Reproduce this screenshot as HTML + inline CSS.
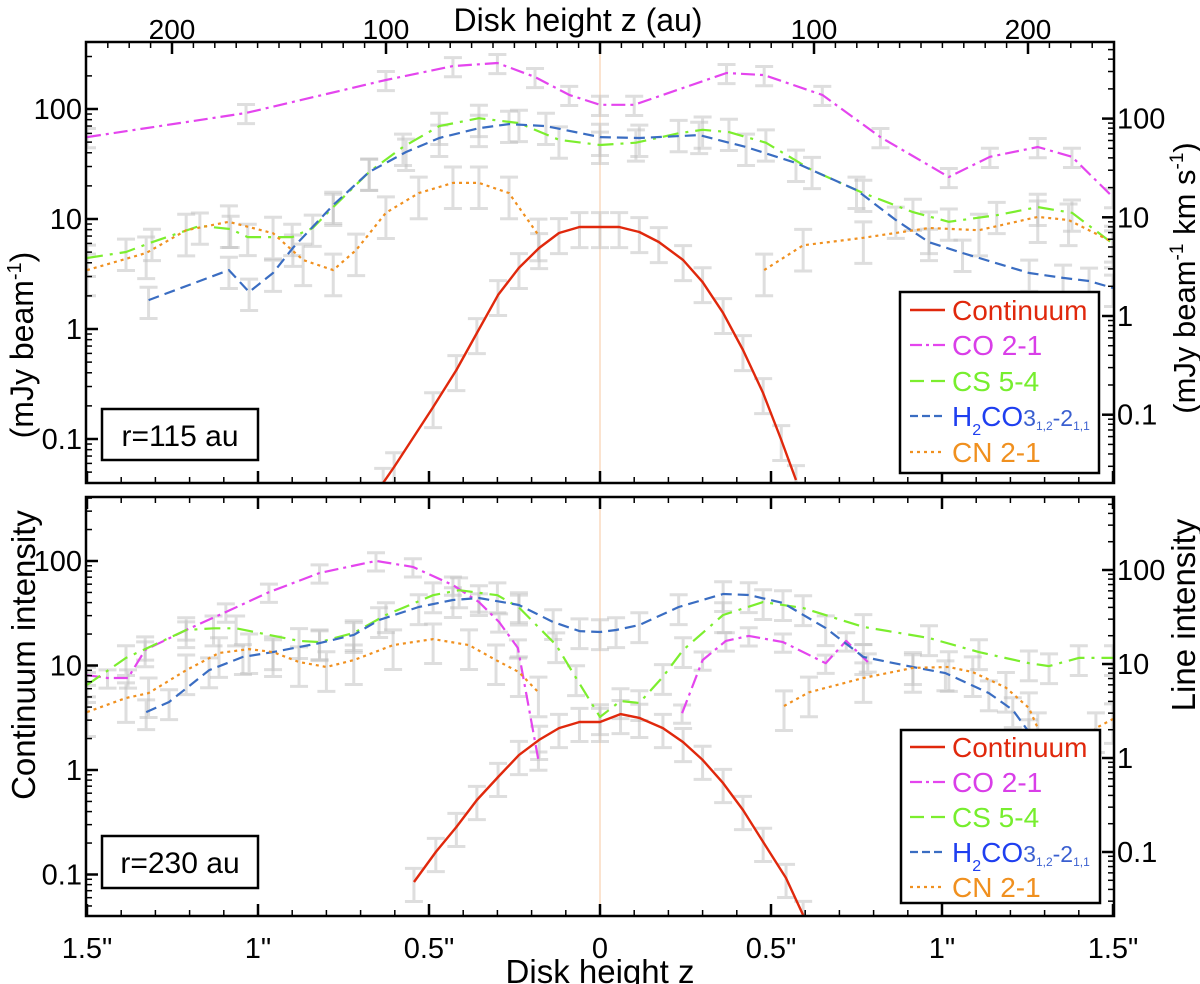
<!DOCTYPE html>
<html><head><meta charset="utf-8"><style>
html,body{margin:0;padding:0;background:#fff;}
svg text{font-family:"Liberation Sans",Arial,sans-serif;}
</style></head><body>
<svg id="chart" width="1200" height="984" viewBox="0 0 1200 984" xmlns="http://www.w3.org/2000/svg" style="position:absolute;left:0;top:0">
<defs>
<clipPath id="clipTop"><rect x="86" y="42" width="1028" height="441"/></clipPath>
<clipPath id="clipBot"><rect x="86" y="497" width="1028" height="419"/></clipPath>
</defs>
<g id="layer"></g>
</svg>
<script>
// ---------- data: top panel (r=115 au) ----------
const topContX = [-0.634,-0.602,-0.488,-0.42,-0.36,-0.298,-0.237,-0.178,-0.12,-0.06,0,0.056,0.115,0.172,0.243,0.30,0.36,0.418,0.477,0.53,0.573];
const topContV = [0.040,0.0556,0.195,0.424,0.92,2.04,3.59,5.45,7.46,8.46,8.46,8.46,7.62,6.18,4.24,2.67,1.40,0.644,0.262,0.098,0.0424];
const topCOX = [-1.5,-1.035,-0.626,-0.43,-0.30,-0.19,-0.09,0,0.1,0.37,0.48,0.65,0.82,1.02,1.14,1.28,1.38,1.5];
const topCOV = [65,114,246,340,366,264,174,138,138,290,276,174,65,25.6,41,51.5,41,16];
const topCSX = [-1.5,-1.386,-1.31,-1.17,-1.08,-1.03,-0.90,-0.84,-0.78,-0.675,-0.576,-0.47,-0.354,-0.237,-0.12,0,0.105,0.23,0.30,0.377,0.485,0.62,0.77,0.915,1.02,1.16,1.28,1.38,1.5];
const topCSV = [3.87,4.45,5.6,8.2,7.6,6.3,6.3,7.8,12.7,28.8,51.5,84,101,90,61,54,57,71,77,73,57,30,17.6,11.3,9.0,10.5,12.7,11.1,5.4];
const topH2COX = [-1.32,-1.085,-1.026,-0.956,-0.898,-0.78,-0.675,-0.567,-0.47,-0.354,-0.266,-0.158,0,0.115,0.29,0.427,0.573,0.75,0.865,0.962,1.06,1.255,1.354,1.43,1.5];
const topH2COV = [1.45,2.92,1.75,2.73,4.9,13.3,28.8,45.9,63.6,80,88,84,65,63.6,68,51.5,35.5,18.9,9.4,5.6,4.35,2.73,2.43,2.26,1.92];
const topCNX1 = [-1.5,-1.327,-1.21,-1.085,-0.956,-0.868,-0.78,-0.713,-0.626,-0.53,-0.43,-0.354,-0.266,-0.18];
const topCNV1 = [2.92,4.35,7.4,9.0,6.9,3.69,2.92,4.66,11.1,17.6,22.3,22.3,17.6,6.6];
const topCNX2 = [0.48,0.594,0.77,0.962,1.108,1.28,1.37,1.5];
const topCNV2 = [2.92,5.2,6.2,7.8,7.4,10.1,9.4,5.6];
// ---------- data: bottom panel (r=230 au) ----------
const botContX = [-0.544,-0.48,-0.42,-0.36,-0.298,-0.237,-0.178,-0.12,-0.06,0,0.06,0.115,0.184,0.243,0.30,0.36,0.418,0.477,0.544,0.594];
const botContV = [0.0848,0.164,0.285,0.516,0.857,1.39,1.94,2.52,2.88,2.88,3.43,3.15,2.52,1.85,1.25,0.75,0.414,0.205,0.0926,0.041];
const botCOX1 = [-1.5,-1.44,-1.38,-1.33,-1.21,-1.094,-0.968,-0.82,-0.655,-0.547,-0.43,-0.354,-0.295,-0.24,-0.18];
const botCOV1 = [7.6,7.1,7.1,14.1,23,35.7,58,93,125,108,69,45.7,28,14.8,0.95];
const botCOX2 = [0.24,0.30,0.368,0.435,0.535,0.66,0.72,0.783];
const botCOV2 = [3.0,11.0,17.6,19.9,17.1,10.2,17.6,10.5];
const botCSX = [-1.5,-1.386,-1.33,-1.21,-1.13,-1.064,-0.88,-0.82,-0.72,-0.626,-0.488,-0.412,-0.30,-0.237,-0.128,-0.07,0,0.06,0.115,0.184,0.243,0.36,0.477,0.594,0.77,0.962,1.108,1.254,1.313,1.4,1.5];
const botCSV = [6.0,11.6,14.4,23,24,24,17.6,17.1,21.4,33.2,54,61,54,40,15.9,7.1,2.73,4.04,3.85,7.3,14.1,33.2,45.7,39.4,24.8,18.9,13.4,10.2,9.5,11.6,11.6];
const botH2COX = [-1.327,-1.26,-1.143,-1.044,-0.956,-0.82,-0.72,-0.646,-0.53,-0.43,-0.354,-0.237,-0.137,-0.06,0,0.047,0.115,0.23,0.36,0.435,0.535,0.66,0.77,0.915,1.01,1.137,1.207,1.254,1.4];
const botH2COV = [3.08,3.94,8.6,11.9,13.4,16.7,20.4,29.4,40.4,48,50.4,42.4,28,22.4,21.9,23,26,40.4,55.6,54.2,44.6,24.1,11.9,9.3,8.0,4.9,3.24,1.89,0.5];
const botCNX1 = [-1.5,-1.386,-1.32,-1.21,-1.114,-1.026,-0.956,-0.88,-0.80,-0.72,-0.605,-0.488,-0.383,-0.304,-0.237,-0.18];
const botCNV1 = [3.08,4.35,4.9,8.6,13.1,14.4,13.4,10.5,9.3,11.0,15.9,18.4,15.9,11.0,8.2,5.0];
const botCNX2 = [0.538,0.611,0.77,0.915,1.02,1.09,1.187,1.254,1.28,1.36,1.45,1.5];
const botCNV2 = [3.57,5.0,7.1,9.1,9.3,8.2,5.6,3.4,2.08,0.8,2.08,2.6];
// fractional error bar half-sizes per series: CO, CS, H2CO, CN, Cont
const errFrac = [0.22, 0.35, 0.35, 0.45, 0.35];
const xTickLabels = ['1.5"','1"','0.5"','0','0.5"','1"','1.5"'];
const xTickVals = [-1.5,-1,-0.5,0,0.5,1,1.5];
const auTickVals = [200,100,100,200];
const auTickSide = [-1,-1,1,1];
const yTickVals = [100,10,1,0.1];
const yTickLabels = ['100','10','1','0.1'];

const NS='http://www.w3.org/2000/svg';
const layer=document.getElementById('layer');
function mk(tag,attrs,parent){const e=document.createElementNS(NS,tag);for(const k in attrs)e.setAttribute(k,attrs[k]);(parent||layer).appendChild(e);return e;}
const X = x => 600 + 342*x;
const AU_PX = 2.14; // px per au
const panels = {
 top:{y0:42,y1:483,yL:v=>329-110*Math.log10(v),yR:v=>316-98.7*Math.log10(v),clip:'url(#clipTop)'},
 bot:{y0:497,y1:916,yL:v=>770-104.5*Math.log10(v),yR:v=>758-94*Math.log10(v),clip:'url(#clipBot)'}
};
const COL={cont:'#e0280c',co:'#e445ee',cs:'#7cee2e',h2co:'#3a6dc2',cn:'#f0901f'};
const DASH={cont:'',co:'14,5,3,5',cs:'16,7,3,7',h2co:'11,6',cn:'3,4'};

function errBars(p,g,xs,vs,yf,frac,name){
  for(let i=0;i<xs.length;i++){
    const px=X(xs[i]);
    const lo=yf(vs[i]*(1-frac)),hi=yf(vs[i]*(1+frac));
    const e=mk('path',{d:`M${px},${hi}V${lo}M${px-9},${hi}H${px+9}M${px-9},${lo}H${px+9}`,stroke:'#bdbdbd','stroke-opacity':'0.5','stroke-width':3,fill:'none'},g);
    
    
  }
}
function line(p,g,xs,vs,yf,key,name){
  const pts=xs.map((x,i)=>X(x).toFixed(1)+','+yf(vs[i]).toFixed(1)).join(' ');
  const e=mk('polyline',{points:pts,fill:'none',stroke:COL[key],'stroke-width':key==='cont'?2.4:2.2,'stroke-dasharray':DASH[key],'stroke-linejoin':'round'},g);
  
  
}
function drawPanel(pk,S){
  const p=panels[pk];
  const g=mk('g',{'clip-path':p.clip});
  
  
  const c=mk('line',{x1:X(0),x2:X(0),y1:p.y0,y2:p.y1,stroke:'#fbe3cf','stroke-width':2},g);
  
  
  errBars(p,g,S.coX.concat(S.coX2||[]),S.coV.concat(S.coV2||[]),p.yR,errFrac[0],pk+'-co');
  errBars(p,g,S.csX,S.csV,p.yR,errFrac[1],pk+'-cs');
  errBars(p,g,S.hX,S.hV,p.yR,errFrac[2],pk+'-h2co');
  errBars(p,g,S.cnX1.concat(S.cnX2),S.cnV1.concat(S.cnV2),p.yR,errFrac[3],pk+'-cn');
  errBars(p,g,S.ctX,S.ctV,p.yL,errFrac[4],pk+'-continuum');
  line(p,g,S.ctX,S.ctV,p.yL,'cont',pk+'-continuum-line');
  line(p,g,S.coX,S.coV,p.yR,'co',pk+'-co-line');
  if(S.coX2) line(p,g,S.coX2,S.coV2,p.yR,'co',pk+'-co-line-2');
  line(p,g,S.csX,S.csV,p.yR,'cs',pk+'-cs-line');
  line(p,g,S.hX,S.hV,p.yR,'h2co',pk+'-h2co-line');
  line(p,g,S.cnX1,S.cnV1,p.yR,'cn',pk+'-cn-line');
  line(p,g,S.cnX2,S.cnV2,p.yR,'cn',pk+'-cn-line-2');
  const f=mk('rect',{x:86,y:p.y0,width:1028,height:p.y1-p.y0,fill:'none',stroke:'#000','stroke-width':2.5});
  
  
  for(let k=-15;k<=15;k++){
    const px=X(k/10), major=(k%5===0), L=major?12:6;
    mk('line',{x1:px,x2:px,y1:p.y1,y2:p.y1-L,stroke:'#000','stroke-width':major?2.5:1.5});
    if(pk==='bot') mk('line',{x1:px,x2:px,y1:p.y0,y2:p.y0+L,stroke:'#000','stroke-width':major?2.5:1.5});
  }
  [['L',p.yL,86,1],['R',p.yR,1114,-1]].forEach(([side,yf,x0,dir])=>{
    for(let d=-2;d<=2;d++){
      for(let m=1;m<=9;m++){
        const v=m*Math.pow(10,d), y=yf(v);
        if(y<p.y0+1||y>p.y1-1) continue;
        const L=m===1?12:6;
        mk('line',{x1:x0,x2:x0+dir*L,y1:y,y2:y,stroke:'#000','stroke-width':m===1?2.5:1.5});
      }
    }
    yTickVals.forEach((v,i)=>{
      const t=mk('text',{x:side==='L'?82:1117,y:yf(v)+10,'font-size':29,'text-anchor':side==='L'?'end':'start',fill:'#000'});
      t.textContent=yTickLabels[i];
      
      
    });
  });
}
drawPanel('top',{ctX:topContX,ctV:topContV,coX:topCOX,coV:topCOV,csX:topCSX,csV:topCSV,hX:topH2COX,hV:topH2COV,cnX1:topCNX1,cnV1:topCNV1,cnX2:topCNX2,cnV2:topCNV2});
drawPanel('bot',{ctX:botContX,ctV:botContV,coX:botCOX1,coV:botCOV1,coX2:botCOX2,coV2:botCOV2,csX:botCSX,csV:botCSV,hX:botH2COX,hV:botH2COV,cnX1:botCNX1,cnV1:botCNV1,cnX2:botCNX2,cnV2:botCNV2});

for(let a=-240;a<=240;a+=10){
  const px=600+AU_PX*a; if(px<87||px>1113) continue;
  const major=(a%100===0), L=major?12:6;
  mk('line',{x1:px,x2:px,y1:42,y2:42+L,stroke:'#000','stroke-width':major?2.5:1.5});
}
auTickVals.forEach((a,i)=>{
  const t=mk('text',{x:600+AU_PX*a*auTickSide[i],y:39,'font-size':28,'text-anchor':'middle'});
  t.textContent=String(a);
  
  
});
xTickVals.forEach((v,i)=>{
  const t=mk('text',{x:X(v),y:958,'font-size':29,'text-anchor':'middle'});
  t.textContent=xTickLabels[i];
  
  
});
</script>
<svg width="1200" height="984" viewBox="0 0 1200 984" style="position:absolute;left:0;top:0">
<text x="578" y="31" font-size="32" text-anchor="middle" font-family="Liberation Sans, sans-serif">Disk height z (au)</text>
<text x="600" y="983" font-size="33" text-anchor="middle" font-family="Liberation Sans, sans-serif">Disk height z</text>
<text transform="translate(33,345) rotate(-90)" font-size="32" text-anchor="middle" font-family="Liberation Sans, sans-serif">(mJy beam<tspan font-size="20" dy="-12">-1</tspan><tspan dy="12">)</tspan></text>
<text transform="translate(35,655) rotate(-90)" font-size="33" text-anchor="middle" font-family="Liberation Sans, sans-serif">Continuum intensity</text>
<text transform="translate(1195,278) rotate(-90)" font-size="31" text-anchor="middle" font-family="Liberation Sans, sans-serif">(mJy beam<tspan font-size="19" dy="-12">-1</tspan><tspan dy="12"> km s</tspan><tspan font-size="19" dy="-12">-1</tspan><tspan dy="12">)</tspan></text>
<text transform="translate(1195,615) rotate(-90)" font-size="33" text-anchor="middle" font-family="Liberation Sans, sans-serif">Line intensity</text>
<g>
<rect x="102" y="409" width="156" height="51" fill="#fff" stroke="#000" stroke-width="2.5"/>
<text x="180" y="446" font-size="30" text-anchor="middle" font-family="Liberation Sans, sans-serif">r=115 au</text>
</g>
<g>
<rect x="102" y="836" width="156" height="52" fill="#fff" stroke="#000" stroke-width="2.5"/>
<text x="180" y="873" font-size="30" text-anchor="middle" font-family="Liberation Sans, sans-serif">r=230 au</text>
</g>
<g font-family="Liberation Sans, sans-serif" font-size="28">
<rect x="900" y="292" width="199" height="181" fill="#fff" stroke="#000" stroke-width="2.5"/>
<g><line x1="910" x2="945" y1="310" y2="310" stroke="#e0280c" stroke-width="2.4"/><text x="952" y="320" fill="#e0280c">Continuum</text></g>
<g><line x1="910" x2="945" y1="345" y2="345" stroke="#e445ee" stroke-width="2.2" stroke-dasharray="12,4,3,4"/><text x="952" y="355" fill="#d93ee8">CO 2-1</text></g>
<g><line x1="910" x2="945" y1="381" y2="381" stroke="#7cee2e" stroke-width="2.2" stroke-dasharray="14,7"/><text x="952" y="391" fill="#77ee2e">CS 5-4</text></g>
<g><line x1="910" x2="945" y1="416" y2="416" stroke="#3a6dc2" stroke-width="2.2" stroke-dasharray="8,4"/><text x="952" y="426" fill="#1f3ff0">H<tspan font-size="16" dy="9">2</tspan><tspan dy="-9">CO</tspan><tspan font-size="23" fill="#3a5fd0">3<tspan font-size="12" dy="4">1,2</tspan><tspan dy="-4">-2</tspan><tspan font-size="12" dy="4">1,1</tspan></tspan></text></g>
<g><line x1="910" x2="945" y1="452" y2="452" stroke="#f0901f" stroke-width="2.2" stroke-dasharray="3,4"/><text x="952" y="462" fill="#f0901f">CN 2-1</text></g>
</g>
<g font-family="Liberation Sans, sans-serif" font-size="28">
<rect x="901" y="730" width="199" height="173" fill="#fff" stroke="#000" stroke-width="2.5"/>
<g><line x1="910" x2="945" y1="747" y2="747" stroke="#e0280c" stroke-width="2.4"/><text x="952" y="757" fill="#e0280c">Continuum</text></g>
<g><line x1="910" x2="945" y1="782" y2="782" stroke="#e445ee" stroke-width="2.2" stroke-dasharray="12,4,3,4"/><text x="952" y="792" fill="#d93ee8">CO 2-1</text></g>
<g><line x1="910" x2="945" y1="817" y2="817" stroke="#7cee2e" stroke-width="2.2" stroke-dasharray="14,7"/><text x="952" y="827" fill="#77ee2e">CS 5-4</text></g>
<g><line x1="910" x2="945" y1="852" y2="852" stroke="#3a6dc2" stroke-width="2.2" stroke-dasharray="8,4"/><text x="952" y="862" fill="#1f3ff0">H<tspan font-size="16" dy="9">2</tspan><tspan dy="-9">CO</tspan><tspan font-size="23" fill="#3a5fd0">3<tspan font-size="12" dy="4">1,2</tspan><tspan dy="-4">-2</tspan><tspan font-size="12" dy="4">1,1</tspan></tspan></text></g>
<g><line x1="910" x2="945" y1="887" y2="887" stroke="#f0901f" stroke-width="2.2" stroke-dasharray="3,4"/><text x="952" y="897" fill="#f0901f">CN 2-1</text></g>
</g>
</svg>
</body></html>
